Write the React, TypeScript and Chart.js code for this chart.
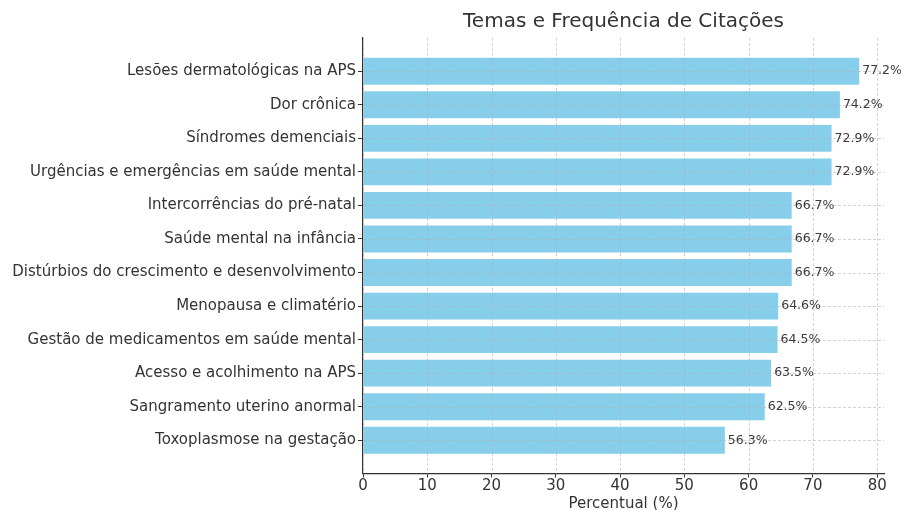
import React, { useEffect, useRef } from "react";
import { Chart, registerables } from "chart.js";

Chart.register(...registerables);

const categories = [
  "Lesões dermatológicas na APS",
  "Dor crônica",
  "Síndromes demenciais",
  "Urgências e emergências em saúde mental",
  "Intercorrências do pré-natal",
  "Saúde mental na infância",
  "Distúrbios do crescimento e desenvolvimento",
  "Menopausa e climatério",
  "Gestão de medicamentos em saúde mental",
  "Acesso e acolhimento na APS",
  "Sangramento uterino anormal",
  "Toxoplasmose na gestação",
];
const percentages = [77.2, 74.2, 72.9, 72.9, 66.7, 66.7, 66.7, 64.6, 64.5, 63.5, 62.5, 56.3];
const xTicks = [0, 10, 20, 30, 40, 50, 60, 70, 80];

const FONT = "'DejaVu Sans', sans-serif";
const TEXT = "#333333";

export default function App() {
  const ref = useRef<HTMLCanvasElement | null>(null);
  useEffect(() => {
    if (!ref.current) return;
    const overlay = {
      id: "overlay",
      afterDatasetsDraw(chart: any) {
        const ctx = chart.ctx;
        const { left, right, top, bottom } = chart.chartArea;
        const xs = chart.scales.x;
        const ys = chart.scales.y;
        ctx.save();
        ctx.strokeStyle = "rgba(176,176,176,0.7)";
        ctx.lineWidth = 0.8;
        ctx.setLineDash([3, 2]);
        xTicks.forEach((t) => {
          const px = Math.round(xs.getPixelForValue(t)) + 0.5;
          ctx.beginPath();
          ctx.moveTo(px, top);
          ctx.lineTo(px, bottom);
          ctx.stroke();
        });
        categories.forEach((_, i) => {
          const py = Math.round(ys.getPixelForValue(i)) + 0.5;
          ctx.beginPath();
          ctx.moveTo(left, py);
          ctx.lineTo(right, py);
          ctx.stroke();
        });
        ctx.setLineDash([]);
        const meta = chart.getDatasetMeta(0);
        ctx.fillStyle = "#3a3a3a";
        ctx.font = `12.5px ${FONT}`;
        ctx.textAlign = "left";
        ctx.textBaseline = "middle";
        meta.data.forEach((bar: any, i: number) => {
          ctx.fillText(percentages[i].toFixed(1) + "%", bar.x + 3, bar.y);
        });
        ctx.restore();
      },
    };
    const chart = new Chart(ref.current, {
      type: "bar",
      data: {
        datasets: [
          {
            data: percentages.map((v, i) => ({ x: v, y: i })),
            backgroundColor: "#87CEEB",
            borderWidth: 0,
            barPercentage: 0.8,
            categoryPercentage: 1,
          },
        ],
      },
      options: {
        indexAxis: "y",
        animation: false,
        responsive: false,
        maintainAspectRatio: false,
        layout: { padding: { left: 0, right: 17, top: 0, bottom: 0 } },
        plugins: {
          legend: { display: false },
          tooltip: { enabled: false },
          title: {
            display: true,
            fullSize: false,
            text: "Temas e Frequência de Citações",
            color: TEXT,
            font: { family: FONT, size: 20, weight: "normal" },
            padding: { top: 10, bottom: 4 },
          },
        },
        scales: {
          x: {
            type: "linear",
            min: 0,
            max: 81.06,
            offset: false,
            afterBuildTicks: (s: any) => {
              s.ticks = xTicks.map((v) => ({ value: v }));
            },
            afterFit: (s: any) => {
              s.height = 36.5;
            },
            ticks: {
              color: TEXT,
              font: { family: FONT, size: 15 },
              padding: 0,
              maxRotation: 0,
              autoSkip: false,
            },
            grid: {
              offset: false,
              drawOnChartArea: false,
              drawTicks: true,
              tickLength: 4,
              tickColor: TEXT,
              tickWidth: 1,
            },
            border: { display: true, color: TEXT, width: 1.2 },
            title: {
              display: true,
              text: "Percentual (%)",
              color: TEXT,
              font: { family: FONT, size: 15, lineHeight: 1 },
              padding: { top: 0, bottom: -2 },
            },
          },
          y: {
            type: "linear",
            reverse: true,
            offset: false,
            min: -0.99,
            max: 11.99,
            afterBuildTicks: (s: any) => {
              s.ticks = categories.map((_, i) => ({ value: i }));
            },
            afterFit: (s: any) => {
              s.width = 363;
            },
            ticks: {
              color: TEXT,
              font: { family: FONT, size: 15 },
              padding: 2,
              autoSkip: false,
              callback: (v: any) => categories[Math.round(Number(v))] ?? "",
            },
            grid: {
              offset: false,
              drawOnChartArea: false,
              drawTicks: true,
              tickLength: 5,
              tickColor: TEXT,
              tickWidth: 1,
            },
            border: { display: true, color: TEXT, width: 1.2 },
          },
        },
      },
      plugins: [overlay],
    } as any);
    return () => chart.destroy();
  }, []);
  return (
    <div style={{ position: "fixed", left: 0, top: 0, width: 901, height: 510, background: "#fff" }}>
      <canvas ref={ref} width={901} height={510} style={{ width: 901, height: 510 }} />
    </div>
  );
}
